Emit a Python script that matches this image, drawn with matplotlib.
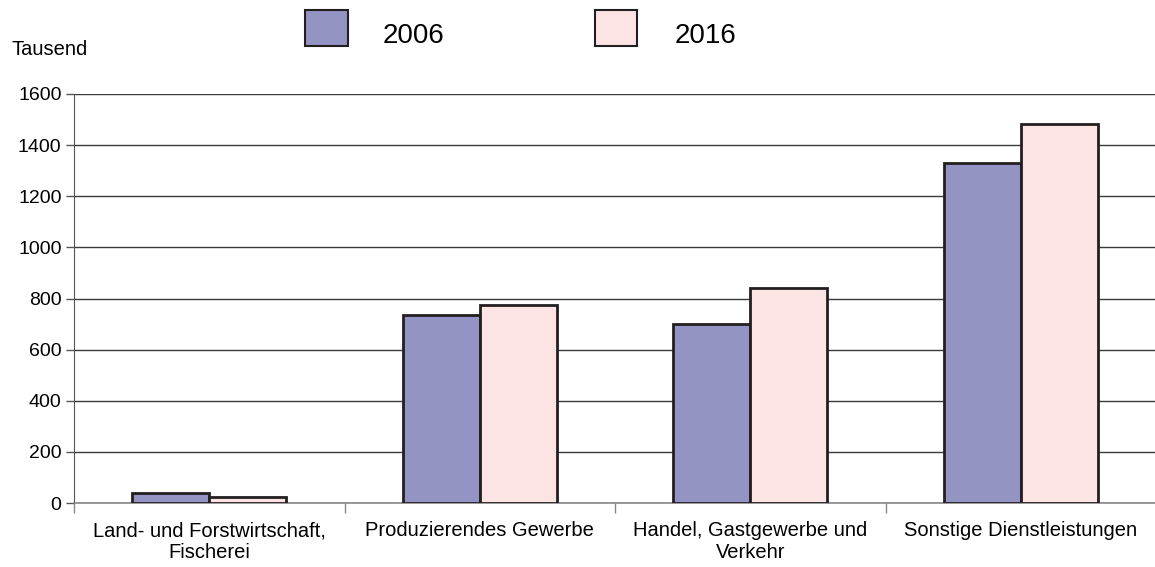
import matplotlib.pyplot as plt
import numpy as np
from matplotlib.patches import Rectangle

plt.rcParams['font.family'] = ['Liberation Sans', 'DejaVu Sans']

categories = ['Land- und Forstwirtschaft,\nFischerei', 'Produzierendes Gewerbe',
              'Handel, Gastgewerbe und\nVerkehr', 'Sonstige Dienstleistungen']
years = ['2006', '2016']
v2006 = [39, 735, 700, 1330]
v2016 = [23, 775, 841, 1483]
yticks = [0, 200, 400, 600, 800, 1000, 1200, 1400, 1600]

c2006 = '#9393c4'
c2016 = '#fde4e4'

W, H = 1155, 567
fig = plt.figure(figsize=(W / 100, H / 100), dpi=100)
ax = fig.add_axes([74 / W, 1 - 503 / H, 1082 / W, 409 / H])

x = np.arange(len(categories))
w = 0.285
ax.bar(x - w / 2, v2006, w, color=c2006, edgecolor='#231f20', linewidth=2, zorder=3)
ax.bar(x + w / 2, v2016, w, color=c2016, edgecolor='#231f20', linewidth=2, zorder=3)

ax.set_xlim(-0.5, 3.5)
ax.set_ylim(0, 1600)
ax.set_yticks(yticks)
ax.yaxis.grid(True, color='#3a3a3a', linewidth=1, zorder=0)
ax.tick_params(axis='y', labelsize=14, length=6, width=1, color='#555555', pad=3)

# category separators as major ticks, names as minor tick labels
ax.set_xticks(np.arange(-0.5, 4, 1))
ax.set_xticklabels([])
ax.tick_params(axis='x', which='major', length=7, color='#888888', width=1)
ax.set_xticks(x, minor=True)
ax.set_xticklabels(categories, minor=True, fontsize=14.5, linespacing=1.2)
ax.tick_params(axis='x', which='minor', length=0, pad=13)

for s in ['top', 'right']:
    ax.spines[s].set_visible(False)
ax.spines['left'].set_color('#555555')
ax.spines['bottom'].set_color('#888888')
ax.spines['bottom'].set_linewidth(1.2)

fig.text(12 / W, 1 - 55 / H, 'Tausend', fontsize=14.5, va='baseline', ha='left')

# legend drawn by hand to match the original placement
for (x0, x1), col, lab, tx in [((305, 348), c2006, years[0], 383),
                               ((595, 637), c2016, years[1], 675)]:
    fig.add_artist(Rectangle((x0 / W, 1 - 46 / H), (x1 - x0) / W, 36 / H,
                             transform=fig.transFigure, facecolor=col,
                             edgecolor='#231f20', linewidth=1.5))
    fig.text(tx / W, 1 - 43 / H, lab, fontsize=20, va='baseline', ha='left')

fig.savefig('out.png', dpi=100)
